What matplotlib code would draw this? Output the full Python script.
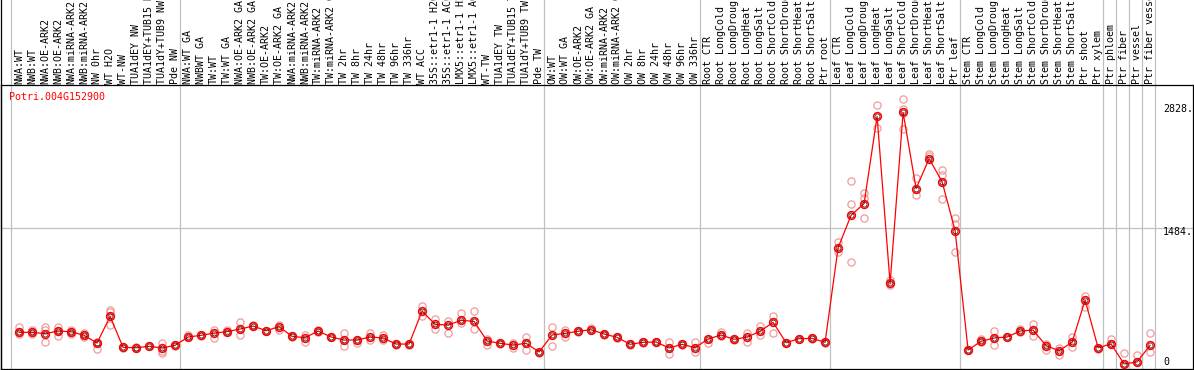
import numpy as np
import matplotlib
matplotlib.use("Agg")
import matplotlib.pyplot as plt
import matplotlib.transforms as mtransforms

# sample labels, group by group
g_nw = ["NWA:WT", "NWB:WT", "NWA:OE-ARK2", "NWB:OE-ARK2", "NWA:miRNA-ARK2", "NWB:miRNA-ARK2",
        "NW 0hr", "WT H2O", "WT-NW", "TUA1dEY NW", "TUA1dEY+TUB15 NW", "TUA1dY+TUB9 NW", "Pde NW"]
g_tw = ["NWA:WT GA", "NWBWT GA", "TW:WT", "TW:WT GA", "NWA:OE-ARK2 GA", "NWB:OE-ARK2 GA",
        "TW:OE-ARK2", "TW:OE-ARK2 GA", "NWA:miRNA-ARK2", "NWB:miRNA-ARK2", "TW:miRNA-ARK2",
        "TW:miRNA-ARK2 GA", "TW 2hr", "TW 8hr", "TW 24hr", "TW 48hr", "TW 96hr", "TW 336hr",
        "WT ACC", "35S::etr1-1 H2O", "35S::etr1-1 ACC", "LMX5::etr1-1 H2O", "LMX5::etr1-1 ACC",
        "WT-TW", "TUA1dEY TW", "TUA1dEY+TUB15 TW", "TUA1dY+TUB9 TW", "Pde TW"]
g_ow = ["OW:WT", "OW:WT GA", "OW:OE-ARK2", "OW:OE-ARK2 GA", "OW:miRNA-ARK2", "OW:miRNA-ARK2 GA",
        "OW 2hr", "OW 8hr", "OW 24hr", "OW 48hr", "OW 96hr", "OW 336hr"]
stress = ["CTR", "LongCold", "LongDrought", "LongHeat", "LongSalt",
          "ShortCold", "ShortDrought", "ShortHeat", "ShortSalt"]
g_root = ["Root " + s for s in stress] + ["Ptr root"]
g_leaf = ["Leaf " + s for s in stress] + ["Ptr leaf"]
g_stem = ["Stem " + s for s in stress] + ["Ptr shoot", "Ptr xylem"]
g_ptr = [["Ptr phloem"], ["Ptr fiber"], ["Ptr vessel"], ["Ptr fiber vessel"]]

groups = [g_nw, g_tw, g_ow, g_root, g_leaf, g_stem] + g_ptr
labels = [s for g in groups for s in g]

# mean expression per sample
means = [346, 346, 331, 360, 353, 313, 229, 520, 182, 178, 193, 175, 204,
         295, 313, 338, 353, 382, 415, 364, 408, 302, 287, 360, 295, 262, 262, 295, 284,
         218, 218, 579, 433, 426, 477, 466, 251, 226, 207, 226, 131,
         317, 335, 357, 375, 328, 291, 215, 237, 240, 175, 215, 178,
         273, 317, 269, 295, 357, 455, 233, 277, 280, 237,
         1270, 1627, 1754, 2707, 881, 2751, 1918, 2245, 1994, 1459,
         153, 248, 284, 295, 360, 371, 200, 145, 237, 699, 178,
         218, 0, 22, 204]

# replicate values
reps = [[400, 324, 346], [371, 324, 346], [404, 240, 371], [404, 306, 360], [371, 324, 353],
        [338, 291, 313], [164, 244, 229], [586, 564, 422], [182, 175], [178, 182], [193, 200],
        [233, 145, 123], [204, 200],
        [320, 290], [313, 305], [375, 287], [368, 345], [462, 317], [429, 410], [364, 358],
        [426, 371], [302, 298], [317, 240], [371, 355], [295, 290], [335, 197], [226, 262],
        [335, 262], [320, 262], [218, 212], [218, 212], [633, 524], [495, 386], [466, 342],
        [557, 444], [579, 386], [277, 207], [226, 220], [233, 171], [291, 153], [131, 125],
        [404, 197], [371, 291], [357, 350], [389, 370], [328, 322], [291, 285], [215, 210],
        [237, 232], [240, 235], [240, 113], [215, 210], [237, 135],
        [226, 273], [353, 310], [269, 263], [342, 244], [419, 317], [528, 338], [233, 228],
        [277, 272], [280, 275], [237, 232],
        [1329, 1226], [1998, 1754, 1117], [1867, 1820, 1591], [2835, 2584], [917, 862],
        [2900, 2787, 2573], [2038, 1845], [2293, 2271], [2118, 2071, 1809], [1601, 1536, 1230],
        [153, 148], [273, 240], [364, 207], [295, 290], [382, 355], [437, 306], [218, 153],
        [178, 98], [298, 189], [742, 626], [160, 178],
        [270, 218], [117, 0], [98, 22], [335, 135]]

gene = "Potri.004G152900"
ytick_vals = [2828, 1484, 0]
ytick_text = ["2828.", "1484.", "0"]

font = "DejaVu Sans Mono"
fs = 7.2

fig = plt.figure(figsize=(11.94, 3.70), dpi=100)
ax = fig.add_axes([1 / 1194, 1 / 370, 1192 / 1194, 284 / 370])

x = np.arange(len(labels)) + 0.62

# replicates
for xi, r in zip(x, reps):
    ax.plot([xi] * len(r), r, 'o', ms=5.2, mfc='none', mec='#ee9c9c', mew=0.9, zorder=2)

ax.plot(x, means, '-', color='red', lw=0.9, zorder=3)
ax.plot(x, means, 'o', ms=5.6, mfc='none', mec='red', mew=1.1, zorder=4)
ax.plot(x, means, 'o', ms=3.6, mfc='none', mec='#300000', mew=0.5, zorder=5)

ax.set_xlim(-0.77, 90.92)
ax.set_ylim(-55, 3051)
ax.set_xticks([])
ax.set_yticks([])
for sp in ax.spines.values():
    sp.set_linewidth(0.9)
    sp.set_color('black')

# group separators, running up through the label band
bounds = np.concatenate([[0], np.cumsum([len(g) for g in groups])])
for b in bounds:
    ax.axvline(b, ymin=0, ymax=1.31, color='#c0c0c0', lw=0.9, clip_on=False, zorder=1)
ax.axhline(1484, color='#c0c0c0', lw=0.9, zorder=1)
ax.plot([0, 0], [0, 1.31], color='black', lw=0.9, transform=ax.transAxes, clip_on=False)

# rotated sample labels above the plot (the long ones run off the top, as in the original)
lab_tr = mtransforms.blended_transform_factory(ax.transData, ax.transAxes)
for xi, s in zip(x, labels):
    ax.text(xi, 1.004, s, rotation=90, ha='center', va='bottom', fontsize=fs,
            family=font, transform=lab_tr, clip_on=False)

ax.text(0.0067, 0.958, gene, color='red', fontsize=fs, family=font,
        ha='left', va='center', transform=ax.transAxes)

# value labels on the right
yl_tr = mtransforms.blended_transform_factory(ax.transAxes, ax.transData)
yl_tr = mtransforms.offset_copy(yl_tr, fig=fig, y=-4, units='dots')
for v, t in zip(ytick_vals, ytick_text):
    off = 6 if v == 0 else 0
    ax.text(0.975, v + off / 0.0914, t, fontsize=fs, family=font,
            ha='left', va='center', transform=yl_tr)

fig.savefig("out.png", dpi=100)
